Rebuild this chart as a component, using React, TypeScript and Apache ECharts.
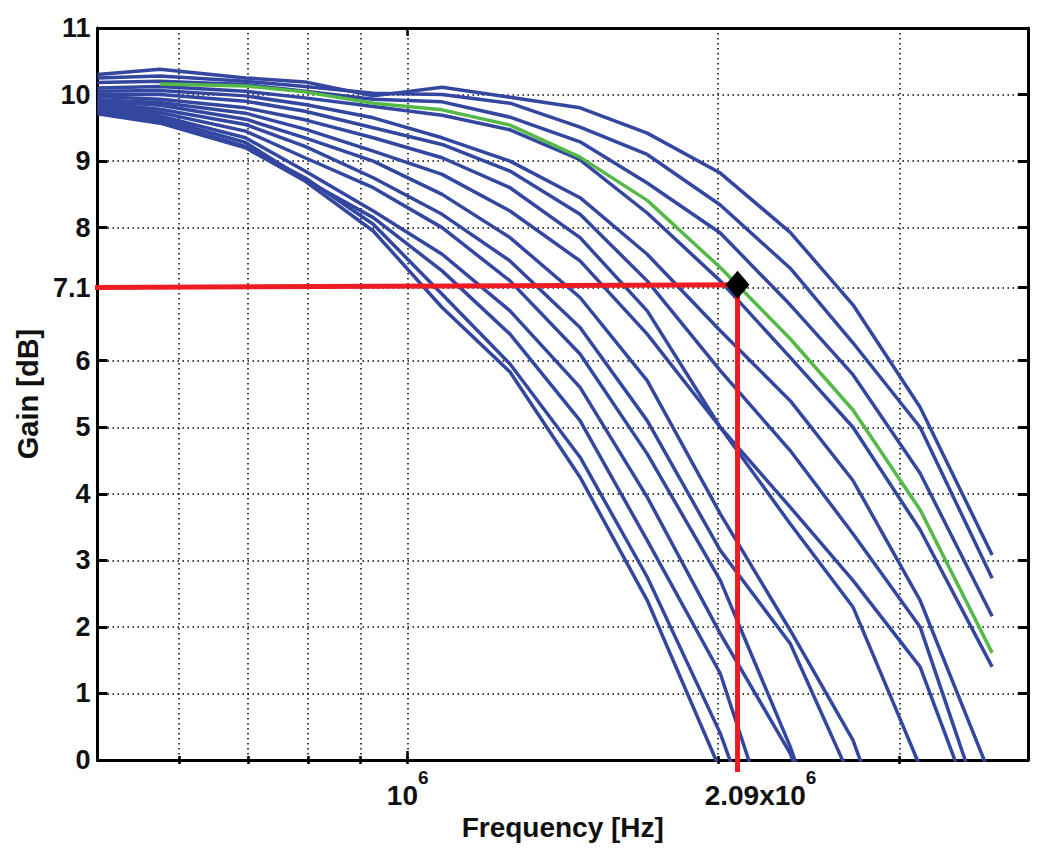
import React, { useEffect, useRef } from "react";
import * as echarts from "echarts";

// Frequencies (Hz) at which every curve is sampled
const freqHz = [5.0e5, 5.75e5, 6.96e5, 7.95e5, 9.26e5, 1.08e6, 1.257e6, 1.47e6, 1.708e6, 2.011e6, 2.351e6, 2.705e6, 3.143e6, 3.692e6];

// Gain curves in dB (blue family), from the top-right curve down to the bottom-left curve
const curveA = [10.30, 10.38, 10.25, 10.19, 9.98, 10.11, 9.96, 9.80, 9.42, 8.82, 7.93, 6.84, 5.30, 3.08];
const curveB = [10.25, 10.28, 10.20, 10.12, 10.02, 10.00, 9.87, 9.51, 9.10, 8.34, 7.39, 6.27, 5.00, 2.73];
const curveC = [10.18, 10.20, 10.15, 10.05, 9.93, 9.89, 9.66, 9.29, 8.67, 7.92, 6.84, 5.79, 4.31, 2.16];
const curveD = [10.10, 10.12, 10.05, 9.95, 9.82, 9.69, 9.47, 9.02, 8.22, 7.20, 6.05, 5.00, 3.46, 1.40];
const curveE = [10.05, 10.06, 9.98, 9.85, 9.65, 9.35, 9.00, 8.45, 7.60, 6.45, 5.40, 4.20, 2.40, -0.30];
const curveF = [10.00, 10.00, 9.90, 9.75, 9.50, 9.25, 8.85, 8.20, 7.20, 5.85, 4.65, 3.40, 2.00, -1.20];
const curveH = [9.97, 9.93, 9.80, 9.62, 9.35, 9.05, 8.60, 7.85, 6.75, 5.00, 3.80, 2.70, 1.40, -1.50];
const curveI = [9.92, 9.88, 9.72, 9.48, 9.15, 8.80, 8.25, 7.50, 6.40, 5.00, 3.55, 2.30, -0.10, -3.00];
const curveJ = [9.90, 9.84, 9.63, 9.35, 9.00, 8.50, 7.85, 6.95, 5.70, 3.70, 1.95, 0.30, -2.50];
const curveK = [9.87, 9.78, 9.55, 9.22, 8.75, 8.20, 7.50, 6.50, 5.10, 3.15, 1.75, -0.35];
const curveL = [9.84, 9.73, 9.45, 9.05, 8.60, 8.00, 7.20, 6.10, 4.60, 2.70, 0.20, -2.50];
const curveM = [9.81, 9.68, 9.35, 8.85, 8.25, 7.60, 6.75, 5.60, 3.95, 1.90, 0.10, -2.50];
const curveN = [9.78, 9.64, 9.28, 8.72, 8.15, 7.35, 6.40, 5.10, 3.30, 1.30, -1.90];
const curveO = [9.74, 9.60, 9.22, 8.75, 8.05, 7.00, 5.95, 4.55, 2.75, 0.40, -2.50];
const curveP = [9.71, 9.57, 9.20, 8.70, 7.95, 6.80, 5.83, 4.25, 2.40, -0.15, -3.00];
const blueCurves = [curveA, curveB, curveC, curveD, curveE, curveF, curveH, curveI, curveJ, curveK, curveL, curveM, curveN, curveO, curveP];

// Highlighted (green) curve; it starts at the second frequency
const greenCurve = [null, 10.16, 10.13, 10.04, 9.87, 9.77, 9.54, 9.06, 8.41, 7.40, 6.33, 5.26, 3.76, 1.61];

// Marked operating point and red guide lines
const markerFreqHz = 2.09e6;
const markerGain = 7.14;
const redStartFreqHz = 4.96e5;
const redStartGain = 7.1;
const redEndGain = -0.18;

// Axes
const xMinHz = 5e5;
const xMaxHz = 4e6;
const gridFreqHz = [6e5, 7e5, 8e5, 9e5, 1e6, 2e6, 3e6];
const majorTickFreqHz = [1e6];
const xLabelFreqHz = [1e6, 2.09e6];
const xLabelBase = ["10", "2.09x10"];
const xLabelExp = ["6", "6"];
const yTicks = [0, 1, 2, 3, 4, 5, 6, 7.1, 8, 9, 10, 11];

const BLUE = "#3447a0";
const GREEN = "#55b947";
const RED = "#ed1c24";
const FONT = "'Liberation Sans', Arial, Helvetica, sans-serif";

const lg = (v: number) => Math.log10(v);

export default function App() {
  const ref = useRef<HTMLDivElement>(null);

  useEffect(() => {
    document.body.style.margin = "0";
    if (!ref.current) return;
    const chart = echarts.init(ref.current, undefined, { renderer: "svg" });

    const axisLineStyle = { color: "#000", width: 3 };
    const tickLine = { color: "#000", width: 2.5 };
    const dotted = { color: "#000", width: 1.5, type: [1.5, 3.5] as number[] };
    const xBase = { type: "value" as const, min: lg(xMinHz), max: lg(xMaxHz), gridIndex: 0 };

    const xFormatter = (v: number) => {
      const i = xLabelFreqHz.findIndex((f) => Math.abs(lg(f) - v) < 1e-6);
      if (i < 0) return "";
      const sp = i === 0 ? "" : "{sp| }";
      return sp + "{b|" + xLabelBase[i] + "}{sup|" + xLabelExp[i] + "}";
    };

    const series: any[] = blueCurves.map((c) => ({
      type: "line",
      xAxisIndex: 0,
      yAxisIndex: 0,
      data: c.map((g, j) => [lg(freqHz[j]), g]),
      symbol: "none",
      silent: true,
      lineStyle: { color: BLUE, width: 3.5 },
      z: 2,
    }));
    series.push({
      type: "line",
      xAxisIndex: 0,
      yAxisIndex: 0,
      data: greenCurve
        .map((g, j) => (g === null ? null : [lg(freqHz[j]), g]))
        .filter((p) => p !== null),
      symbol: "none",
      silent: true,
      lineStyle: { color: GREEN, width: 3.5 },
      z: 3,
    });
    series.push({
      type: "line",
      xAxisIndex: 0,
      yAxisIndex: 0,
      clip: false,
      data: [
        [lg(redStartFreqHz), redStartGain],
        [lg(markerFreqHz), markerGain],
        [lg(markerFreqHz), redEndGain],
      ],
      symbol: "none",
      silent: true,
      lineStyle: { color: RED, width: 5, join: "miter" },
      z: 4,
    });
    series.push({
      type: "scatter",
      xAxisIndex: 0,
      yAxisIndex: 0,
      data: [[lg(markerFreqHz), markerGain]],
      symbol: "diamond",
      symbolSize: [24, 28],
      itemStyle: { color: "#000", opacity: 1 },
      silent: true,
      z: 5,
    });

    chart.setOption({
      animation: false,
      backgroundColor: "#fff",
      textStyle: { fontFamily: FONT, fontWeight: "bold" },
      grid: { left: 97.5, right: 20, top: 28, bottom: 99, containLabel: false },
      xAxis: [
        {
          ...xBase,
          position: "bottom",
          axisLine: { show: true, onZero: false, lineStyle: axisLineStyle },
          axisTick: { show: true, inside: true, length: 9, customValues: majorTickFreqHz.map(lg), lineStyle: tickLine },
          axisLabel: {
            show: true,
            customValues: xLabelFreqHz.map(lg),
            formatter: xFormatter,
            margin: 8,
            rich: {
              b: { fontSize: 28, fontWeight: "bold", fontFamily: FONT, color: "#111", lineHeight: 54 },
              sup: { fontSize: 19, fontWeight: "bold", fontFamily: FONT, color: "#111", verticalAlign: "top" },
              sp: { width: 46, fontSize: 18 },
            },
          },
          splitLine: { show: false },
          name: "Frequency [Hz]",
          nameLocation: "middle",
          nameGap: 51,
          nameTextStyle: { fontSize: 28, fontWeight: "bold", color: "#111", fontFamily: FONT, lineHeight: 28 },
        },
        {
          ...xBase,
          position: "bottom",
          axisLine: { show: false },
          axisTick: { show: true, inside: true, length: 4, customValues: gridFreqHz.map(lg), lineStyle: tickLine },
          axisLabel: { show: false },
          splitLine: { show: true, lineStyle: dotted },
        },
        {
          ...xBase,
          position: "top",
          axisLine: { show: true, onZero: false, lineStyle: axisLineStyle },
          axisTick: { show: true, inside: true, length: 8, customValues: majorTickFreqHz.map(lg), lineStyle: tickLine },
          axisLabel: { show: false },
          splitLine: { show: false },
        },
        {
          ...xBase,
          position: "top",
          axisLine: { show: false },
          axisTick: { show: true, inside: true, length: 4, customValues: gridFreqHz.map(lg), lineStyle: tickLine },
          axisLabel: { show: false },
          splitLine: { show: false },
        },
      ],
      yAxis: [
        {
          type: "value",
          min: 0,
          max: 11,
          position: "left",
          axisLine: { show: true, onZero: false, lineStyle: axisLineStyle },
          axisTick: { show: true, inside: true, length: 10, customValues: yTicks, lineStyle: { color: "#000", width: 3 } },
          axisLabel: {
            show: true,
            customValues: yTicks,
            margin: 7,
            fontSize: 27,
            fontWeight: "bold",
            fontFamily: FONT,
            color: "#111",
            formatter: (v: number) => String(v),
          },
          splitLine: { show: true, lineStyle: dotted },
          name: "Gain [dB]",
          nameLocation: "middle",
          nameGap: 52,
          nameRotate: 90,
          nameTextStyle: { fontSize: 29, fontWeight: "bold", color: "#111", fontFamily: FONT, lineHeight: 29 },
        },
        {
          type: "value",
          min: 0,
          max: 11,
          position: "right",
          axisLine: { show: true, onZero: false, lineStyle: axisLineStyle },
          axisTick: { show: true, inside: true, length: 10, customValues: yTicks, lineStyle: { color: "#000", width: 3 } },
          axisLabel: { show: false },
          splitLine: { show: false },
        },
      ],
      series,
    });

    return () => {
      chart.dispose();
    };
  }, []);

  return <div ref={ref} style={{ width: 1048, height: 859 }} />;
}
